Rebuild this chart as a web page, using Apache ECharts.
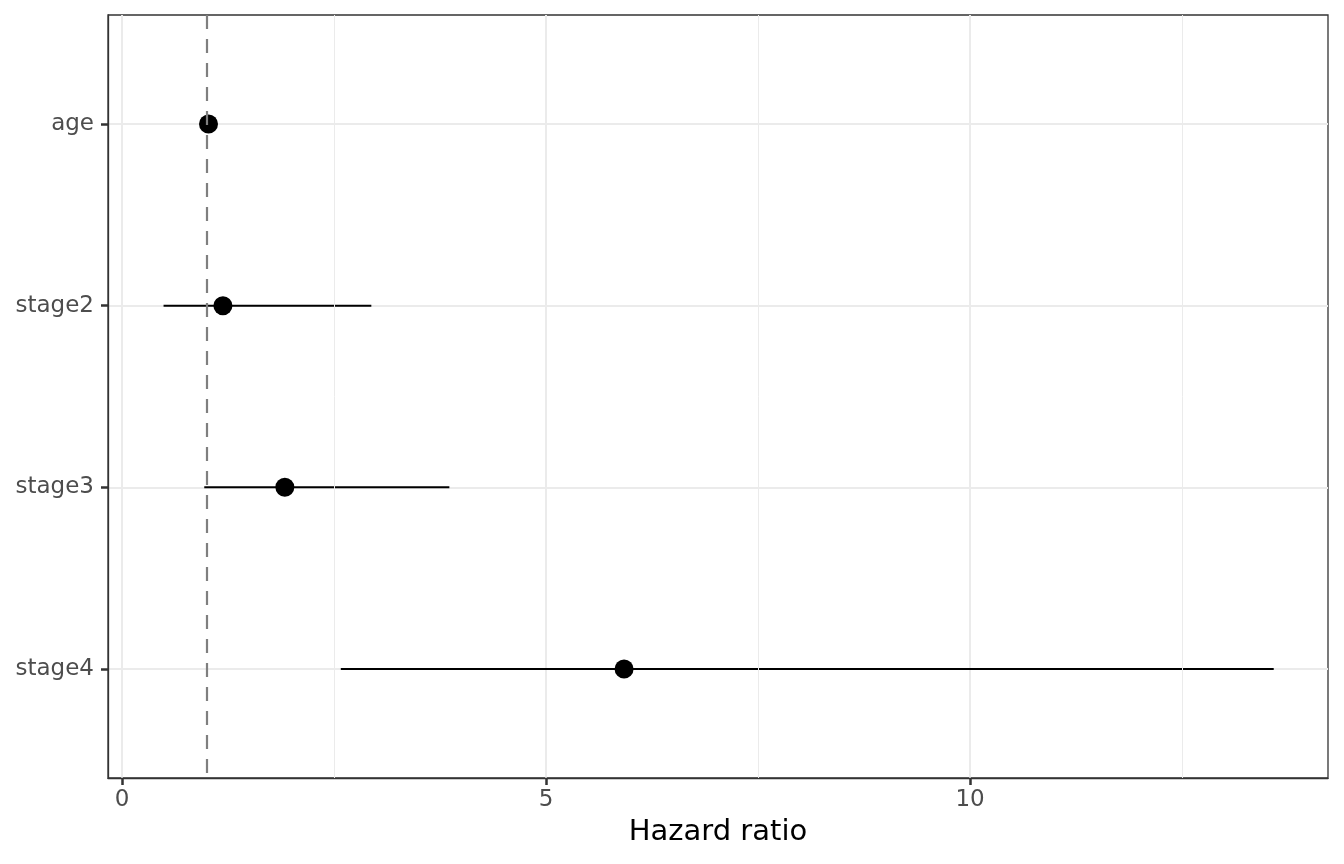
<!DOCTYPE html>
<html>
<head>
<meta charset="utf-8">
<script src="https://cdn.jsdelivr.net/npm/echarts@6/dist/echarts.min.js"></script>
<style>html,body{margin:0;padding:0;background:#fff;}#c{width:1344px;height:864px;}</style>
</head>
<body>
<div id="c"></div>
<script>
const categories = ['age', 'stage2', 'stage3', 'stage4'];
const hazardRatio = [1.02, 1.19, 1.92, 5.92];
const ciLower = [1.00, 0.49, 0.97, 2.58];
const ciUpper = [1.04, 2.94, 3.86, 13.58];
const xTicks = [0, 5, 10];
const xMinorGrid = [2.5, 7.5, 12.5];
const refLine = 1;
const yIndex = categories.map((c, i) => i);

const FONT = 'DejaVu Sans';
const chart = echarts.init(document.getElementById('c'), null, {renderer: 'canvas'});

const barData = categories.map((c, i) => [ciLower[i], ciUpper[i], i]);
const pointData = categories.map((c, i) => [hazardRatio[i], i]);

chart.setOption({
  animation: false,
  backgroundColor: '#ffffff',
  grid: {
    left: 108, right: 16, top: 15, bottom: 86,
    show: true, borderColor: '#333333', borderWidth: 1.3, backgroundColor: '#ffffff'
  },
  xAxis: {
    type: 'value',
    min: -0.165, max: 14.22,
    axisLine: {show: true, onZero: false, lineStyle: {color: '#333333', width: 1.3}},
    axisTick: {show: true, length: 7, customValues: xTicks, lineStyle: {color: '#333333', width: 2.5}},
    axisLabel: {customValues: xTicks, color: '#4D4D4D', fontSize: 23, fontFamily: FONT, margin: 11},
    splitLine: {show: true, lineStyle: {color: '#EBEBEB', width: 2}},
    name: 'Hazard ratio',
    nameLocation: 'middle',
    nameGap: 40,
    nameTextStyle: {color: '#000000', fontSize: 29, fontFamily: FONT}
  },
  yAxis: {
    type: 'value',
    inverse: true,
    min: -0.6, max: 3.6,
    axisLine: {show: true, onZero: false, lineStyle: {color: '#333333', width: 1.3}},
    axisTick: {show: true, length: 7, customValues: yIndex, lineStyle: {color: '#333333', width: 2.5}},
    axisLabel: {customValues: yIndex, color: '#4D4D4D', fontSize: 23, fontFamily: FONT, margin: 14,
      formatter: v => categories[Math.round(v)] || ''},
    splitLine: {show: true, lineStyle: {color: '#EBEBEB', width: 2}}
  },
  series: [
    {
      type: 'line',
      data: [],
      silent: true,
      z: 1,
      markLine: {
        silent: true, symbol: 'none', label: {show: false},
        lineStyle: {color: '#EBEBEB', width: 1, type: 'solid'},
        data: xMinorGrid.map(v => ({xAxis: v}))
      }
    },
    {
      type: 'line',
      data: [],
      silent: true,
      z: 2,
      markLine: {
        silent: true, symbol: 'none', label: {show: false},
        lineStyle: {color: '#7F7F7F', width: 2.2, type: [14, 10], opacity: 1},
        data: [{xAxis: refLine}]
      }
    },
    {
      type: 'custom',
      z: 3,
      data: barData,
      encode: {x: [0, 1], y: 2},
      renderItem: function (params, api) {
        const p1 = api.coord([api.value(0), api.value(2)]);
        const p2 = api.coord([api.value(1), api.value(2)]);
        return {type: 'line', shape: {x1: p1[0], y1: p1[1], x2: p2[0], y2: p2[1]},
          style: {stroke: '#000000', lineWidth: 2}};
      }
    },
    {
      type: 'scatter',
      z: 4,
      data: pointData,
      symbol: 'circle',
      symbolSize: 19,
      itemStyle: {color: '#000000', opacity: 1}
    }
  ]
});
</script>
</body>
</html>
